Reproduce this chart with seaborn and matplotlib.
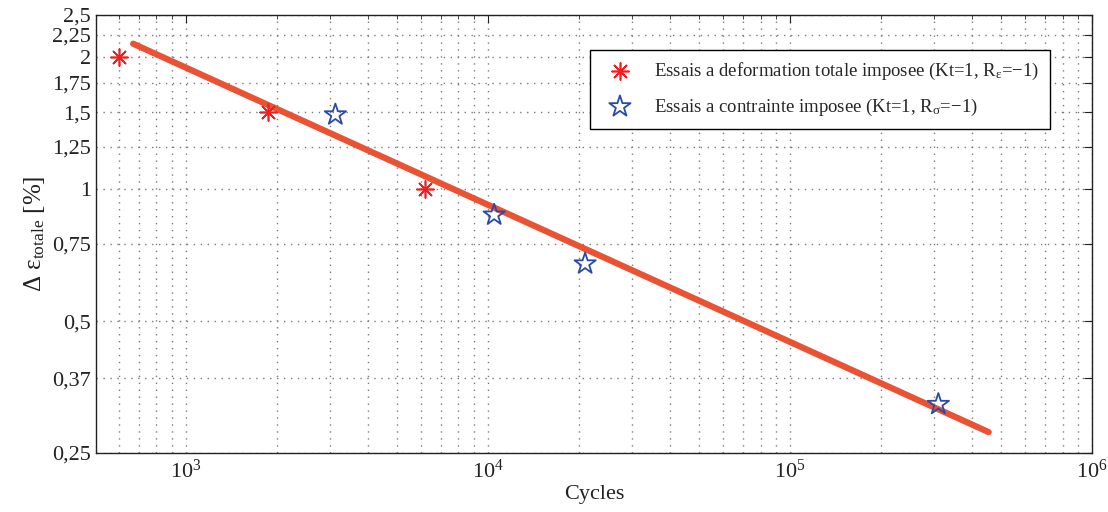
import matplotlib
matplotlib.use('Agg')
from matplotlib import pyplot as plt
from matplotlib.ticker import FixedLocator, NullLocator, LogLocator, FixedFormatter
import pandas as pd
import seaborn as sns

# data
strain_cycles = [600, 1870, 6200]
strain_amp = [2.0, 1.5, 1.0]
stress_cycles = [3130, 10500, 21000, 310000]
stress_amp = [1.48, 0.874, 0.676, 0.323]
fit_cycles = [670, 455000]
fit_amp = [2.15, 0.279]

y_ticks = [0.25, 0.37, 0.5, 0.75, 1, 1.25, 1.5, 1.75, 2, 2.25, 2.5]
y_labels = ['0,25', '0,37', '0,5', '0,75', '1', '1,25', '1,5', '1,75', '2', '2,25', '2,5']

sns.set_style('white')
plt.rcParams['font.family'] = ['Liberation Serif', 'DejaVu Serif']
plt.rcParams['mathtext.fontset'] = 'custom'
plt.rcParams['mathtext.rm'] = 'Liberation Serif'
plt.rcParams['mathtext.it'] = 'Liberation Serif:italic'
plt.rcParams['mathtext.bf'] = 'Liberation Serif:bold'

fig = plt.figure(figsize=(11.08, 5.12), dpi=100)
ax = fig.add_axes([96/1108, 59/512, 996/1108, 438/512])

fit_df = pd.DataFrame({'N': fit_cycles, 'eps': fit_amp})
sns.lineplot(data=fit_df, x='N', y='eps', color='#EA5234', linewidth=4.5, ax=ax, legend=False)

df1 = pd.DataFrame({'N': strain_cycles, 'eps': strain_amp})
df2 = pd.DataFrame({'N': stress_cycles, 'eps': stress_amp})
sns.scatterplot(data=df1, x='N', y='eps', marker=(8, 2, 0), s=150, color='#F02020',
                linewidth=1.2, ax=ax, zorder=5,
                label=r'Essais a deformation totale imposee (Kt=1, R$_{\mathrm{ε}}$=−1)')
sns.scatterplot(data=df2, x='N', y='eps', marker='*', s=260, facecolor='none',
                edgecolor='#2A4AA8', linewidth=1.3, ax=ax, zorder=5,
                label=r'Essais a contrainte imposee (Kt=1, R$_{\mathrm{σ}}$=−1)')

ax.set_xscale('log')
ax.set_yscale('log')
ax.set_xlim(505, 1e6)
ax.set_ylim(0.25, 2.5)

ax.xaxis.set_major_locator(LogLocator(base=10, numticks=10))
ax.xaxis.set_minor_locator(LogLocator(base=10, subs=range(2, 10), numticks=20))
ax.yaxis.set_major_locator(FixedLocator(y_ticks))
ax.yaxis.set_major_formatter(FixedFormatter(y_labels))
ax.yaxis.set_minor_locator(NullLocator())

ax.tick_params(which='both', direction='in', top=True, right=True, colors='#222222',
               labelcolor='#222222')
ax.tick_params(which='major', length=6, labelsize=16)
ax.tick_params(axis='x', which='major', pad=5)
ax.tick_params(which='minor', length=3)
ax.grid(which='both', linestyle=(0, (1, 4)), color='#7a7a7a', linewidth=1.0)
for s in ax.spines.values():
    s.set_color('#222222')
    s.set_linewidth(1.0)

ax.set_xlabel('Cycles', fontsize=16, color='#222222', labelpad=1)
ax.set_ylabel(r'Δ $\mathrm{ε}_{\mathrm{totale}}$ [%]', fontsize=18, color='#222222', labelpad=4)

leg = ax.legend(loc='upper right', bbox_to_anchor=(0.958, 0.92), fontsize=13.5,
                fancybox=False, edgecolor='black', framealpha=1, borderpad=0.6,
                labelspacing=0.75, handletextpad=0.8, borderaxespad=0)
leg.get_frame().set_linewidth(1.0)

fig.savefig('out.png', dpi=100)
